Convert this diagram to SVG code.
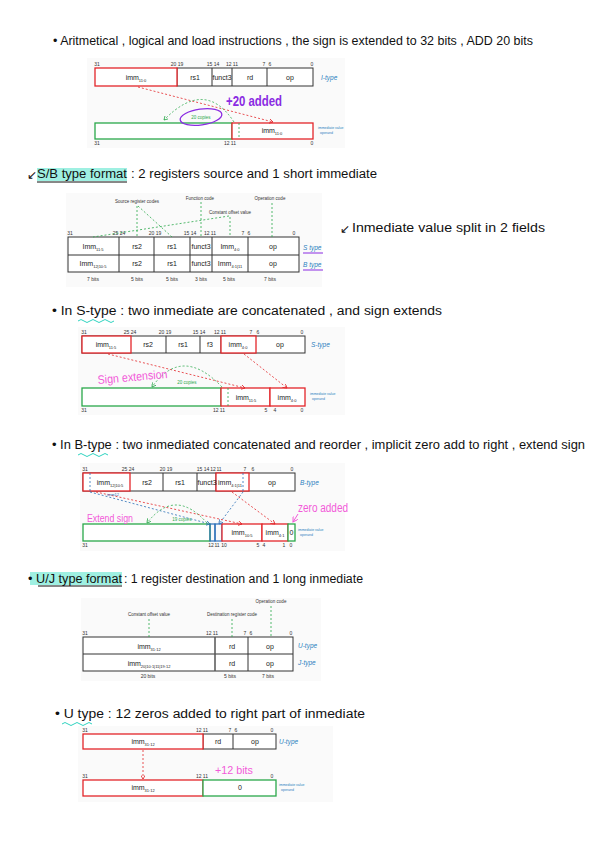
<svg xmlns="http://www.w3.org/2000/svg" width="600" height="848" viewBox="0 0 600 848">
<style>
.hand{font-family:"Liberation Sans Narrow","Liberation Sans",sans-serif;font-size:12px;fill:#111}
.cell{font-family:"Liberation Sans",sans-serif;font-size:7px;fill:#222;text-anchor:middle}
.sub{font-size:4px}
.bit{font-family:"Liberation Sans",sans-serif;font-size:5px;fill:#333;text-anchor:middle}
.tl{font-family:"Liberation Sans",sans-serif;font-size:6.5px;fill:#2a7fc0;font-style:italic}
.tiny{font-family:"Liberation Sans",sans-serif;font-size:3.5px;fill:#2a7fc0}
.ann{font-family:"Liberation Sans",sans-serif;font-size:4.5px;fill:#333;text-anchor:middle}
.panel{fill:#fafafa;stroke:none}
.box{fill:#fff;stroke:#333;stroke-width:1}
.red{fill:#fff;stroke:#e3262a;stroke-width:1.3}
.grn{fill:#fff;stroke:#2aa84a;stroke-width:1.3}
.blu{fill:none;stroke:#2a6fb8;stroke-width:1.2}
.rdash{fill:none;stroke:#e3262a;stroke-width:0.8;stroke-dasharray:2 2}
.gdash{fill:none;stroke:#2aa84a;stroke-width:0.8;stroke-dasharray:2 2}
.bdash{fill:none;stroke:#2a6fb8;stroke-width:0.8;stroke-dasharray:2 2}
.pink{font-family:"Liberation Sans Narrow","Liberation Sans",sans-serif;fill:#f25ad9}
.purple{font-family:"Liberation Sans",sans-serif;fill:#8a2be2;font-weight:bold}
.hl{fill:#9ff0e2}
</style>
<defs>
<marker id="ar" markerWidth="6" markerHeight="6" refX="5" refY="3" orient="auto"><path d="M0,0 L5,3 L0,6" fill="none" stroke="#e3262a" stroke-width="1"/></marker>
<marker id="ag" markerWidth="6" markerHeight="6" refX="5" refY="3" orient="auto"><path d="M0,0 L5,3 L0,6" fill="none" stroke="#2aa84a" stroke-width="1"/></marker>
<marker id="ab" markerWidth="6" markerHeight="6" refX="5" refY="3" orient="auto"><path d="M0,0 L5,3 L0,6" fill="none" stroke="#2a6fb8" stroke-width="1"/></marker>
<marker id="ap" markerWidth="6" markerHeight="6" refX="5" refY="3" orient="auto"><path d="M0,0 L5,3 L0,6" fill="none" stroke="#f25ad9" stroke-width="1"/></marker>
</defs>
<rect width="600" height="848" fill="#fff"/>

<!-- headings -->
<g id="t1"><text class="hand" x="53" y="45" textLength="480" lengthAdjust="spacingAndGlyphs">• Aritmetical , logical and load instructions , the sign is extended to 32 bits , ADD 20 bits</text></g>
<g id="t2">
<rect class="hl" x="37" y="168" width="90" height="13"/>
<line x1="37" y1="182" x2="127" y2="182" stroke="#111" stroke-width="1"/>
<text class="hand" x="27" y="179" font-size="10">↙</text>
<text class="hand" x="37" y="178" textLength="90" lengthAdjust="spacingAndGlyphs">S/B type format</text>
<text class="hand" x="131" y="178" textLength="246" lengthAdjust="spacingAndGlyphs">: 2 registers source and 1 short immediate</text>
</g>
<g id="t3"><text class="hand" x="340" y="233" font-size="9">↙</text><text class="hand" x="352" y="232" textLength="193" lengthAdjust="spacingAndGlyphs">Inmediate value split in 2 fields</text></g>
<g id="t4"><text class="hand" x="52" y="315" textLength="390" lengthAdjust="spacingAndGlyphs">• In S-type : two inmediate are concatenated , and sign extends</text>
<path d="M78,321 q3,-3 6,0 t6,0 t6,0 t6,0 t6,0 t6,0" fill="none" stroke="#2fd3c0" stroke-width="1"/></g>
<g id="t5"><text class="hand" x="52" y="449" textLength="533" lengthAdjust="spacingAndGlyphs">• In B-type : two inmediated concatenated and reorder , implicit zero add to right , extend sign</text>
<path d="M78,455 q3,-3 6,0 t6,0 t6,0 t6,0 t6,0" fill="none" stroke="#2fd3c0" stroke-width="1"/></g>
<g id="t6">
<rect class="hl" x="30" y="572" width="92" height="13"/>
<line x1="38" y1="586" x2="122" y2="586" stroke="#111" stroke-width="1"/>
<text class="hand" x="28" y="583" textLength="94" lengthAdjust="spacingAndGlyphs">• U/J type format</text>
<text class="hand" x="124" y="583" textLength="239" lengthAdjust="spacingAndGlyphs">: 1 register destination and 1 long inmediate</text>
</g>
<g id="t7"><text class="hand" x="55" y="718" textLength="310" lengthAdjust="spacingAndGlyphs">• U type : 12 zeros added to right part of inmediate</text>
<path d="M62,724 q3,-3 6,0 t6,0 t6,0 t6,0 t6,0" fill="none" stroke="#2fd3c0" stroke-width="1"/></g>

<!-- Diagram 1: I-type -->
<g id="d1">
<rect class="panel" x="87" y="58" width="258" height="90"/>
<rect class="box" x="177" y="68" width="136" height="18"/>
<line x1="212" y1="68" x2="212" y2="86" stroke="#333"/>
<line x1="232" y1="68" x2="232" y2="86" stroke="#333"/>
<line x1="267" y1="68" x2="267" y2="86" stroke="#333"/>
<rect class="red" x="95" y="68" width="82" height="18"/>
<text class="cell" x="136" y="80">imm<tspan class="sub" dy="1.5">11:0</tspan></text>
<text class="cell" x="195" y="80">rs1</text>
<text class="cell" x="222" y="80" font-size="6">funct3</text>
<text class="cell" x="250" y="80">rd</text>
<text class="cell" x="290" y="80">op</text>
<text class="bit" x="97" y="66">31</text><text class="bit" x="177" y="66">20 19</text><text class="bit" x="213" y="66">15 14</text><text class="bit" x="232" y="66">12 11</text><text class="bit" x="264" y="66">7</text><text class="bit" x="270" y="66">6</text><text class="bit" x="312" y="66">0</text>
<text class="tl" x="321" y="80">I-type</text>
<rect class="grn" x="95" y="123" width="137" height="16"/>
<rect class="red" x="232" y="123" width="81" height="16"/>
<line x1="239" y1="123" x2="239" y2="139" class="gdash"/>
<text class="cell" x="272" y="133">imm<tspan class="sub" dy="1.5">11:0</tspan></text>
<text class="bit" x="97" y="145">31</text><text class="bit" x="230" y="145">12 11</text><text class="bit" x="312" y="145">0</text>
<text class="tiny" x="318" y="129">immediate value</text><text class="tiny" x="320" y="134">operand</text>
<path class="rdash" d="M138,87 L273,122" marker-end="url(#ar)"/>
<path class="gdash" d="M234,122 Q205,78 164,120" marker-end="url(#ag)"/>
<ellipse cx="201" cy="117" rx="21" ry="8" fill="none" stroke="#8a2be2" stroke-width="1.3" transform="rotate(-8 201 117)"/>
<text x="201" y="119" font-family="Liberation Sans,sans-serif" font-size="4.5" fill="#2aa84a" text-anchor="middle">20 copies</text>
<text class="purple" x="226" y="106" font-size="14" textLength="56" lengthAdjust="spacingAndGlyphs">+20 added</text>
</g>

<!-- Diagram 2: S/B -->
<g id="d2">
<rect class="panel" x="66" y="193" width="256" height="94"/>
<rect class="box" x="68" y="237" width="231" height="35"/>
<line x1="68" y1="255" x2="299" y2="255" stroke="#333"/>
<line x1="119" y1="237" x2="119" y2="272" stroke="#333"/>
<line x1="154" y1="237" x2="154" y2="272" stroke="#333"/>
<line x1="190" y1="237" x2="190" y2="272" stroke="#333"/>
<line x1="212" y1="237" x2="212" y2="272" stroke="#333"/>
<line x1="248" y1="237" x2="248" y2="272" stroke="#333"/>
<text class="cell" x="93" y="249">Imm<tspan class="sub" dy="1.5">11:5</tspan></text>
<text class="cell" x="137" y="249">rs2</text><text class="cell" x="172" y="249">rs1</text>
<text class="cell" x="201" y="249" font-size="6">funct3</text>
<text class="cell" x="230" y="249">Imm<tspan class="sub" dy="1.5">4:0</tspan></text>
<text class="cell" x="273" y="249">op</text>
<text class="cell" x="93" y="266">Imm<tspan class="sub" dy="1.5">12|10:5</tspan></text>
<text class="cell" x="137" y="266">rs2</text><text class="cell" x="172" y="266">rs1</text>
<text class="cell" x="201" y="266" font-size="6">funct3</text>
<text class="cell" x="230" y="266">Imm<tspan class="sub" dy="1.5">4:1|11</tspan></text>
<text class="cell" x="273" y="266">op</text>
<text class="bit" x="70" y="235">31</text><text class="bit" x="119" y="235">25 24</text><text class="bit" x="155" y="235">20 19</text><text class="bit" x="190" y="235">15 14</text><text class="bit" x="210" y="235">12 11</text><text class="bit" x="243" y="235">7</text><text class="bit" x="249" y="235">6</text><text class="bit" x="294" y="235">0</text>
<text class="bit" x="93" y="281">7 bits</text><text class="bit" x="137" y="281">5 bits</text><text class="bit" x="172" y="281">5 bits</text><text class="bit" x="201" y="281">3 bits</text><text class="bit" x="229" y="281">5 bits</text><text class="bit" x="270" y="281">7 bits</text>
<text class="tl" x="303" y="250">S type</text>
<text class="tl" x="303" y="267">B type</text>
<line x1="303" y1="253" x2="323" y2="253" stroke="#8a2be2" stroke-width="1"/>
<line x1="303" y1="270" x2="323" y2="270" stroke="#8a2be2" stroke-width="1"/>
<text class="ann" x="137" y="203">Source register codes</text>
<text class="ann" x="200" y="200">Function code</text>
<text class="ann" x="230" y="214">Constant offset value</text>
<text class="ann" x="270" y="200">Operation code</text>
<path class="gdash" d="M137,206 L137,237 M138,206 L172,237 M201,202 L201,237 M230,217 L230,237 M229,216 L93,237 M272,203 L272,237"/>
</g>

<!-- Diagram 3: S-type -->
<g id="d3">
<rect class="panel" x="78" y="327" width="267" height="88"/>
<rect class="box" x="82" y="336" width="223" height="17"/>
<line x1="166" y1="336" x2="166" y2="353" stroke="#333"/>
<line x1="200" y1="336" x2="200" y2="353" stroke="#333"/>
<line x1="221" y1="336" x2="221" y2="353" stroke="#333"/>
<rect class="red" x="82" y="336" width="49" height="17"/>
<rect class="red" x="221" y="336" width="35" height="17"/>
<text class="cell" x="106" y="347">imm<tspan class="sub" dy="1.5">11:5</tspan></text>
<text class="cell" x="148" y="347">rs2</text><text class="cell" x="183" y="347">rs1</text><text class="cell" x="210" y="347">f3</text>
<text class="cell" x="238" y="347">imm<tspan class="sub" dy="1.5">4:0</tspan></text>
<text class="cell" x="280" y="347">op</text>
<text class="bit" x="84" y="334">31</text><text class="bit" x="130" y="334">25 24</text><text class="bit" x="165" y="334">20 19</text><text class="bit" x="199" y="334">15 14</text><text class="bit" x="220" y="334">12 11</text><text class="bit" x="251" y="334">7</text><text class="bit" x="258" y="334">6</text><text class="bit" x="302" y="334">0</text>
<text class="tl" x="311" y="347">S-type</text>
<rect class="grn" x="82" y="388" width="139" height="18"/>
<rect class="red" x="221" y="388" width="49" height="18"/>
<rect class="red" x="270" y="388" width="35" height="18"/>
<line x1="228" y1="388" x2="228" y2="406" class="gdash"/>
<text class="cell" x="246" y="400">imm<tspan class="sub" dy="1.5">11:5</tspan></text>
<text class="cell" x="287" y="400">imm<tspan class="sub" dy="1.5">4:0</tspan></text>
<text class="bit" x="84" y="412">31</text><text class="bit" x="219" y="412">12 11</text><text class="bit" x="266" y="412">5</text><text class="bit" x="275" y="412">4</text><text class="bit" x="302" y="412">0</text>
<text class="tiny" x="310" y="395">immediate value</text><text class="tiny" x="312" y="400">operand</text>
<path class="rdash" d="M108,354 L245,388" marker-end="url(#ar)"/>
<path class="rdash" d="M244,354 L287,388" marker-end="url(#ar)"/>
<path class="gdash" d="M222,387 Q182,345 152,387" marker-end="url(#ag)"/>
<text x="187" y="384" font-family="Liberation Sans,sans-serif" font-size="4.5" fill="#2aa84a" text-anchor="middle">20 copies</text>
<text class="pink" x="98" y="384" font-size="12" textLength="70" lengthAdjust="spacingAndGlyphs" transform="rotate(-5 98 384)">Sign extension</text>
</g>

<!-- Diagram 4: B-type -->
<g id="d4">
<rect class="panel" x="80" y="463" width="265" height="88"/>
<rect class="box" x="83" y="473" width="212" height="18"/>
<line x1="163" y1="473" x2="163" y2="491" stroke="#333"/>
<line x1="197" y1="473" x2="197" y2="491" stroke="#333"/>
<line x1="216" y1="473" x2="216" y2="491" stroke="#333"/>
<rect class="red" x="83" y="473" width="47" height="18"/>
<rect class="red" x="216" y="473" width="33" height="18"/>
<line class="bdash" x1="90" y1="473" x2="90" y2="491"/>
<line class="bdash" x1="243" y1="473" x2="243" y2="491"/>
<text class="cell" x="110" y="485">imm<tspan class="sub" dy="1.5">12|10:5</tspan></text>
<text class="cell" x="147" y="485">rs2</text><text class="cell" x="180" y="485">rs1</text>
<text class="cell" x="207" y="485" font-size="6">funct3</text>
<text class="cell" x="230" y="485">imm<tspan class="sub" dy="1.5">4:1|11</tspan></text>
<text class="cell" x="272" y="485">op</text>
<text class="bit" x="85" y="471">31</text><text class="bit" x="128" y="471">25 24</text><text class="bit" x="166" y="471">20 19</text><text class="bit" x="203" y="471">15 14</text><text class="bit" x="213" y="471">12</text><text class="bit" x="219" y="471">11</text><text class="bit" x="245" y="471">7</text><text class="bit" x="253" y="471">6</text><text class="bit" x="292" y="471">0</text>
<text class="tl" x="300" y="485">B-type</text>
<rect class="grn" x="83" y="524" width="127" height="17"/>
<rect class="blu" x="210" y="524" width="5" height="17"/>
<rect class="blu" x="215" y="524" width="7" height="17"/>
<rect class="red" x="222" y="524" width="40" height="17"/>
<rect class="red" x="262" y="524" width="26" height="17"/>
<rect class="grn" x="288" y="524" width="7" height="17"/>
<text class="cell" x="242" y="535">imm<tspan class="sub" dy="1.5">10:5</tspan></text>
<text class="cell" x="275" y="535">imm<tspan class="sub" dy="1.5">4:1</tspan></text>
<text class="cell" x="291.5" y="535" font-size="6">0</text>
<text class="bit" x="85" y="547">31</text><text class="bit" x="211" y="547">12</text><text class="bit" x="217" y="547">11</text><text class="bit" x="224" y="547">10</text><text class="bit" x="258" y="547">5</text><text class="bit" x="264" y="547">4</text><text class="bit" x="284" y="547">1</text><text class="bit" x="291" y="547">0</text>
<text class="tiny" x="298" y="531">immediate value</text><text class="tiny" x="300" y="536">operand</text>
<path class="rdash" d="M96,492 L242,524" marker-end="url(#ar)"/>
<path class="rdash" d="M232,492 L275,524" marker-end="url(#ar)"/>
<path class="bdash" d="M90,492 L210,524" marker-end="url(#ab)"/>
<path class="bdash" d="M243,492 L219,524" marker-end="url(#ab)"/>
<text x="107" y="496" font-family="Liberation Sans,sans-serif" font-size="4" fill="#2a6fb8">imm12</text>
<path class="gdash" d="M207,523 Q175,487 147,523" marker-end="url(#ag)"/>
<text x="182" y="521" font-family="Liberation Sans,sans-serif" font-size="4.5" fill="#2aa84a" text-anchor="middle">19 copies</text>
<text class="pink" x="87" y="522" font-size="10" textLength="46" lengthAdjust="spacingAndGlyphs">Extend sign</text>
<text class="pink" x="298" y="512" font-size="12" textLength="50" lengthAdjust="spacingAndGlyphs">zero added</text>
<path d="M298,514 L293,522" fill="none" stroke="#f25ad9" stroke-width="1" marker-end="url(#ap)"/>
</g>

<!-- Diagram 5: U/J -->
<g id="d5">
<rect class="panel" x="81" y="598" width="240" height="83"/>
<rect class="box" x="83" y="637" width="210" height="34"/>
<line x1="83" y1="654" x2="293" y2="654" stroke="#333"/>
<line x1="215" y1="637" x2="215" y2="671" stroke="#555" stroke-width="1.5"/>
<line x1="248" y1="637" x2="248" y2="671" stroke="#333"/>
<text class="cell" x="149" y="649">imm<tspan class="sub" dy="1.5">31:12</tspan></text>
<text class="cell" x="149" y="666">imm<tspan class="sub" dy="1.5">20|10:1|11|19:12</tspan></text>
<text class="cell" x="232" y="649">rd</text><text class="cell" x="232" y="666">rd</text>
<text class="cell" x="270" y="649">op</text><text class="cell" x="270" y="666">op</text>
<text class="bit" x="85" y="635">31</text><text class="bit" x="212" y="635">12 11</text><text class="bit" x="245" y="635">7</text><text class="bit" x="251" y="635">6</text><text class="bit" x="291" y="635">0</text>
<text class="tl" x="298" y="648">U-type</text><text class="tl" x="298" y="665">J-type</text>
<text class="bit" x="148" y="678">20 bits</text><text class="bit" x="230" y="678">5 bits</text><text class="bit" x="268" y="678">7 bits</text>
<text class="ann" x="149" y="616">Constant offset value</text>
<text class="ann" x="232" y="616">Destination register code</text>
<text class="ann" x="271" y="603">Operation code</text>
<path class="gdash" d="M149,619 L149,637 M232,619 L232,637 M271,606 L271,637"/>
</g>

<!-- Diagram 6: U-type -->
<g id="d6">
<rect class="panel" x="78" y="726" width="255" height="76"/>
<rect class="box" x="203" y="734" width="73" height="15"/>
<line x1="233" y1="734" x2="233" y2="749" stroke="#333"/>
<rect class="red" x="83" y="734" width="120" height="15"/>
<text class="cell" x="143" y="744">imm<tspan class="sub" dy="1.5">31:12</tspan></text>
<text class="cell" x="218" y="744">rd</text><text class="cell" x="255" y="744">op</text>
<text class="bit" x="85" y="732">31</text><text class="bit" x="202" y="732">12 11</text><text class="bit" x="230" y="732">7</text><text class="bit" x="236" y="732">6</text><text class="bit" x="272" y="732">0</text>
<text class="tl" x="279" y="744">U-type</text>
<rect class="red" x="83" y="780" width="120" height="16"/>
<rect class="grn" x="203" y="780" width="73" height="16"/>
<text class="cell" x="143" y="790">imm<tspan class="sub" dy="1.5">31:12</tspan></text>
<text class="cell" x="240" y="790">0</text>
<text class="bit" x="85" y="778">31</text><text class="bit" x="202" y="778">12 11</text><text class="bit" x="272" y="778">0</text>
<text class="tiny" x="279" y="786">immediate value</text><text class="tiny" x="281" y="791">operand</text>
<path class="rdash" d="M143,750 L143,779" marker-end="url(#ar)"/>
<text class="pink" x="215" y="774" font-size="10" textLength="38" lengthAdjust="spacingAndGlyphs">+12 bits</text>
</g>
</svg>
